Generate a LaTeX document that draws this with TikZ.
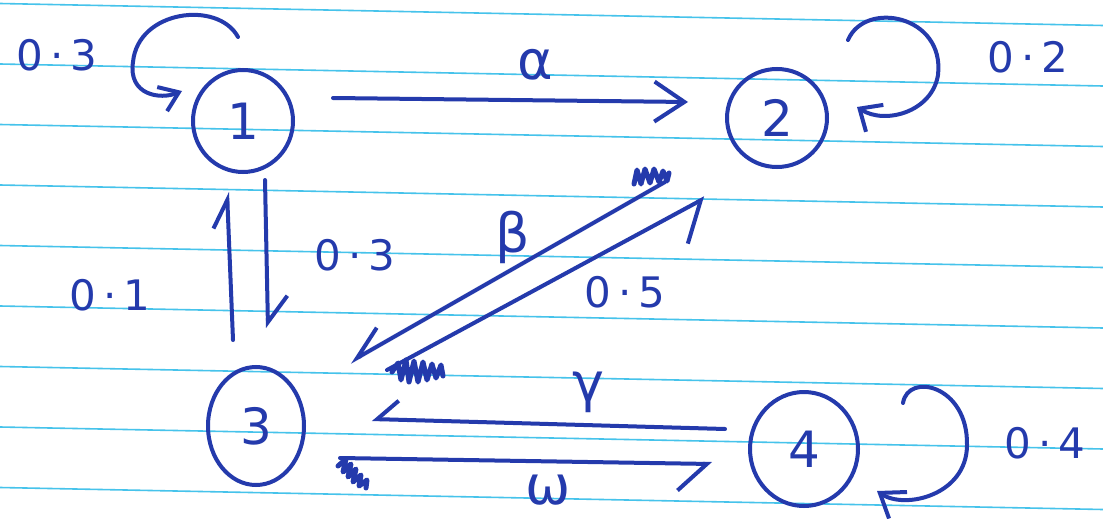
\documentclass[tikz,border=0pt]{standalone}
\usepackage{fontspec}
\setmainfont{DejaVu Sans}
\usetikzlibrary{arrows.meta,shapes.geometric}
\definecolor{ink}{RGB}{36,58,172}
\definecolor{rulecol}{RGB}{70,195,235}
\begin{document}
\begin{tikzpicture}[x=1pt,y=-1pt,
  state/.style={ellipse, draw=ink, line width=4pt, inner sep=0pt, font=\fontsize{50}{54}\selectfont, text=ink},
  con/.style={draw=ink, line width=4pt, line cap=round, line join=round},
  lab/.style={text=ink, font=\fontsize{42}{46}\selectfont, inner sep=0pt},
  glab/.style={text=ink, font=\fontsize{54}{58}\selectfont, inner sep=0pt},
  ruleline/.style={draw=rulecol, line width=1.6pt},
  scrib/.style={draw=ink, line width=5pt, line cap=round, line join=round}]
\useasboundingbox (0,0) rectangle (1103,519);
\fill[white] (0,0) rectangle (1103,519);
\foreach \k in {0,...,8} \draw[ruleline] (0,{3.5+60.5*\k}) -- (1103,{25.5+60.5*\k});
% states
\node[state, minimum width=100pt, minimum height=102pt] (n1) at (243,121) {1};
\node[state, minimum width=100pt, minimum height=98pt] (n2) at (777,118) {2};
\node[state, minimum width=96pt, minimum height=118pt] (n3) at (256,426) {3};
\node[state, minimum width=108pt, minimum height=114pt] (n4) at (804,449) {4};
% transitions
\draw[con, -{Straight Barb[length=30pt,width=40pt]}] ([shift={(90,-23)}]n1.center) -- ([shift={(-89,-16)}]n2.center);
\draw[con, -{Straight Barb[left,length=28pt,width=30pt]}] ([shift={(-23,-86)}]n3.center) -- ([shift={(-16,71)}]n1.center);
\draw[con, -{Straight Barb[left,length=26pt,width=40pt]}] ([shift={(22,59)}]n1.center) -- ([shift={(12,-98)}]n3.center);
\draw[con, -{Straight Barb[right,length=32pt,width=33pt]}] ([shift={(-112,64)}]n2.center) -- ([shift={(94,-64)}]n3.center);
\draw[con, -{Straight Barb[right,length=32pt,width=64pt]}] ([shift={(131,-56)}]n3.center) -- ([shift={(-72,80)}]n2.center);
\draw[con, -{Straight Barb[right,length=21pt,width=38pt]}] ([shift={(-79,-20)}]n4.center) -- ([shift={(116,-7)}]n3.center);
\draw[con, -{Straight Barb[right,length=29pt,width=54pt]}] ([shift={(84,32)}]n3.center) -- ([shift={(-92,15)}]n4.center);
% self loops
\draw[con, -{Straight Barb[length=18pt,width=26pt]}] ([shift={(-5,-84)}]n1.center) .. controls (218,0) and (138,10) .. (133,62) .. controls (128,95) and (160,100) .. ([shift={(-61,-30)}]n1.center);
\draw[con, -{Straight Barb[length=18pt,width=32pt]}] ([shift={(71,-78)}]n2.center) .. controls (865,0) and (945,15) .. (938,75) .. controls (932,112) and (885,125) .. ([shift={(80,-11)}]n2.center);
\draw[con, -{Straight Barb[length=22pt,width=32pt]}] ([shift={(99,-46)}]n4.center) .. controls (908,372) and (968,385) .. (967,445) .. controls (967,495) and (905,510) .. ([shift={(73,42)}]n4.center);
% scribbles at tails
\draw[scrib] (634,184) -- (637,170) -- (641,184) -- (645,169) -- (650,183) -- (654,169) -- (659,182) -- (663,171) -- (667,181) -- (669,173);
\draw[scrib] (392,372) -- (398,363) -- (401,380) -- (406,360) -- (409,382) -- (414,361) -- (418,382) -- (423,362) -- (427,380) -- (432,364) -- (436,378) -- (441,365) -- (443,376);
\draw[scrib] (338,466) -- (346,459) -- (343,472) -- (351,464) -- (348,477) -- (356,469) -- (353,482) -- (361,475) -- (359,486) -- (367,480) -- (366,488);
% labels
\node[lab] (p11) at (57,55) {0\,·\,3};
\node[lab] (p22) at (1028,57) {0\,·\,2};
\node[lab] (p31) at (110,295) {0\,·\,1};
\node[lab] (p13) at (355,255) {0\,·\,3};
\node[lab] (p32) at (625,292) {0\,·\,5};
\node[lab] (p44) at (1045,443) {0\,·\,4};
\node[glab] (la) at (535,65) {α};
\node[glab] (lb) at (513,237) {β};
\node[glab] (lg) at (588,392) {γ};
\node[glab] (lw) at (548,490) {ω};
\end{tikzpicture}
\end{document}
